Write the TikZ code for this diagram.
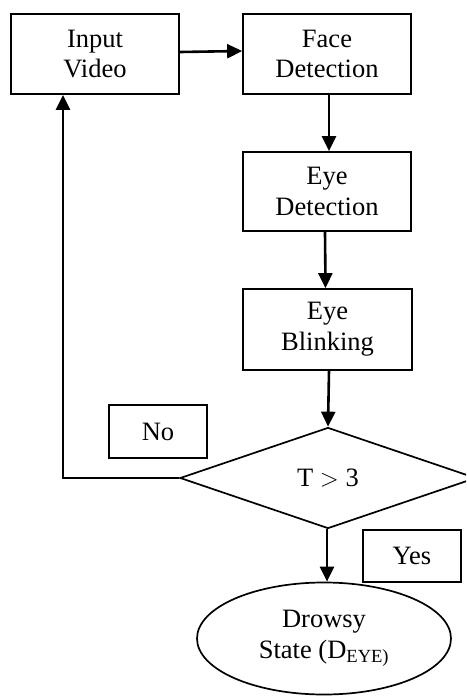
\documentclass[tikz,border=0pt]{standalone}
\usepackage{fontspec}
\setmainfont{Liberation Serif}
\usetikzlibrary{arrows.meta,shapes.geometric}
\tikzset{
  box/.style={draw,line width=1.7pt,rectangle,inner sep=0pt,align=center,font=\fontsize{26.5}{30.7}\selectfont},
  lab/.style={box},
  arr/.style={line width=2.6pt,-{Triangle[length=15pt,width=14pt]}},
}
\begin{document}
\begin{tikzpicture}[x=1pt,y=-1pt]
\useasboundingbox (0,0) rectangle (466,696);
\begin{scope}
\clip (0,0) rectangle (466,696);
\node[box,minimum width=168pt,minimum height=80pt] (inp) at (95,54) {Input\\Video};
\node[box,minimum width=168pt,minimum height=80pt] (face) at (327,54) {Face\\Detection};
\node[box,minimum width=168pt,minimum height=79pt] (eyed) at (327,191.5) {Eye\\Detection};
\node[box,minimum width=169pt,minimum height=81pt] (eyeb) at (327.5,329.5) {Eye\\Blinking};
\node[box,diamond,minimum width=296pt,minimum height=101pt] (dia) at (328,478) {T $>$ 3};
\node[box,ellipse,minimum width=254pt,minimum height=112pt] (drow) at (324,638.5) {\rule{0pt}{12pt}Drowsy\\State (D\textsubscript{EYE)}};
\node[lab,minimum width=98pt,minimum height=53pt] (no) at (158,431.5) {No};
\node[lab,minimum width=98pt,minimum height=52pt] (yes) at (412,556) {Yes};
\end{scope}
\draw[arr] ([yshift=2pt]inp.east) -- ([yshift=3pt]face.west);
\draw[arr] ([xshift=2pt]face.south) -- ([xshift=2pt]eyed.north);
\draw[arr] ([xshift=-2pt]eyed.south) -- ([xshift=-2pt]eyeb.north);
\draw[arr] ([xshift=1.5pt]eyeb.south) -- (dia.north);
\draw[arr] ([xshift=-1pt]dia.south) -- ([xshift=3pt]drow.north);
\draw[arr] (dia.west) -| ([xshift=-32pt]inp.south);
\end{tikzpicture}
\end{document}
